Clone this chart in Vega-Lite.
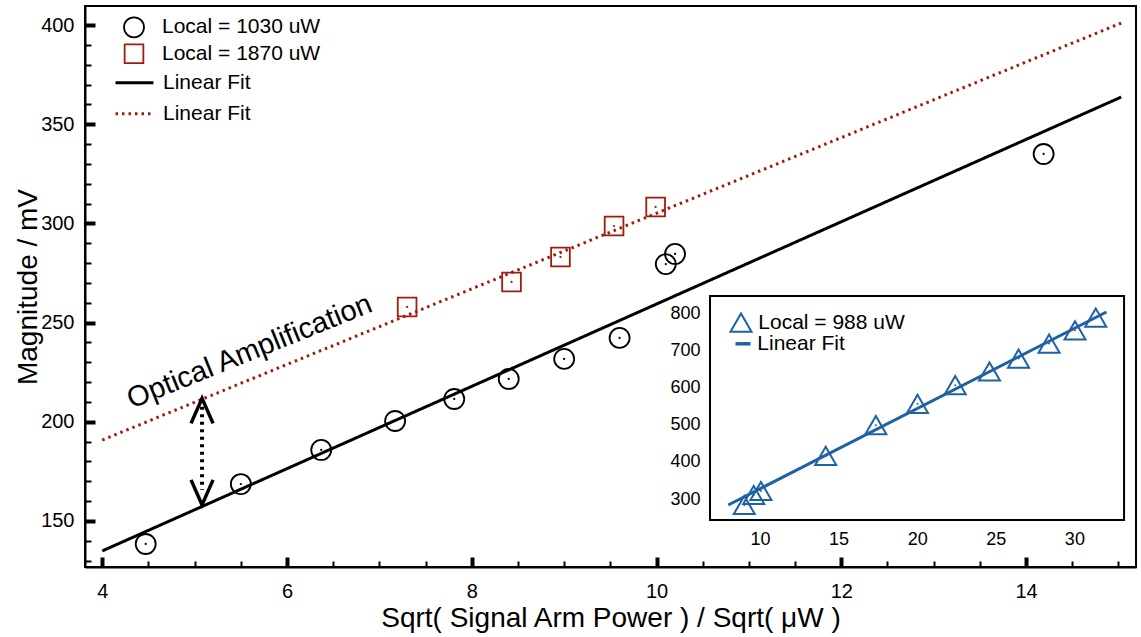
{
  "$schema": "https://vega.github.io/schema/vega-lite/v6.json",
  "width": 1051,
  "height": 561,
  "autosize": {"type": "none"},
  "padding": {"left": 85, "top": 6, "right": 5, "bottom": 70},
  "background": "white",
  "config": {
    "view": {"stroke": "black", "strokeWidth": 2},
    "font": "Liberation Sans",
    "axis": {"grid": false, "labelFont": "Liberation Sans", "titleFont": "Liberation Sans", "labelColor": "black", "titleColor": "black", "tickColor": "black", "domainColor": "black", "titleFontWeight": "normal"},
    "legend": {"labelFont": "Liberation Sans", "labelColor": "black", "title": null, "orient": "none", "padding": 0}
  },
  "datasets": {
    "main_pts": [
      {"x": 4.47, "y": 138.4, "series": "Local = 1030 uW"},
      {"x": 5.50, "y": 168.6, "series": "Local = 1030 uW"},
      {"x": 6.37, "y": 185.8, "series": "Local = 1030 uW"},
      {"x": 7.17, "y": 200.4, "series": "Local = 1030 uW"},
      {"x": 7.81, "y": 211.5, "series": "Local = 1030 uW"},
      {"x": 8.40, "y": 221.6, "series": "Local = 1030 uW"},
      {"x": 9.00, "y": 231.7, "series": "Local = 1030 uW"},
      {"x": 9.60, "y": 242.3, "series": "Local = 1030 uW"},
      {"x": 10.10, "y": 279.5, "series": "Local = 1030 uW"},
      {"x": 10.20, "y": 284.6, "series": "Local = 1030 uW"},
      {"x": 14.19, "y": 335.0, "series": "Local = 1030 uW"},
      {"x": 7.30, "y": 257.9, "series": "Local = 1870 uW"},
      {"x": 8.43, "y": 270.5, "series": "Local = 1870 uW"},
      {"x": 8.96, "y": 283.1, "series": "Local = 1870 uW"},
      {"x": 9.54, "y": 298.7, "series": "Local = 1870 uW"},
      {"x": 9.99, "y": 308.3, "series": "Local = 1870 uW"}
    ],
    "main_fit": [
      {"x": 4.0, "y": 134.9, "series": "Linear Fit (1030)"},
      {"x": 15.03, "y": 363.7, "series": "Linear Fit (1030)"},
      {"x": 4.0, "y": 190.8, "series": "Linear Fit (1870)"},
      {"x": 15.03, "y": 401.0, "series": "Linear Fit (1870)"}
    ],
    "arrow": [
      {"x": 5.08, "y": 207.6, "y2": 165.6}
    ],
    "heads": [
      {"x": 5.08, "y": 205.5, "dir": "up"},
      {"x": 5.08, "y": 164.4, "dir": "down"}
    ],
    "note": [
      {"x": 5.63, "y": 231.2, "label": "Optical Amplification"}
    ],
    "inset_pts": [
      {"x": 9.0, "y": 283.9, "series": "Local = 988 uW"},
      {"x": 9.6, "y": 310.8, "series": "Local = 988 uW"},
      {"x": 10.06, "y": 321.5, "series": "Local = 988 uW"},
      {"x": 14.18, "y": 416.4, "series": "Local = 988 uW"},
      {"x": 17.37, "y": 498.9, "series": "Local = 988 uW"},
      {"x": 20.02, "y": 556.2, "series": "Local = 988 uW"},
      {"x": 22.42, "y": 606.5, "series": "Local = 988 uW"},
      {"x": 24.6, "y": 643.3, "series": "Local = 988 uW"},
      {"x": 26.45, "y": 678.2, "series": "Local = 988 uW"},
      {"x": 28.39, "y": 718.5, "series": "Local = 988 uW"},
      {"x": 30.04, "y": 754.3, "series": "Local = 988 uW"},
      {"x": 31.36, "y": 788.4, "series": "Local = 988 uW"}
    ],
    "inset_fit": [
      {"x": 7.98, "y": 283.9, "series": "Linear Fit"},
      {"x": 32.04, "y": 803.5, "series": "Linear Fit"}
    ],
    "inset_box": [
      {"x": 6.82, "x2": 33.16, "y": 243.5, "y2": 846.6}
    ]
  },
  "layer": [
    {
      "data": {"name": "main_fit"},
      "mark": {"type": "line", "strokeWidth": 3},
      "encoding": {
        "x": {"field": "x", "type": "quantitative",
          "scale": {"domain": [3.813, 15.19], "nice": false, "zero": false},
          "axis": {"orient": "bottom", "values": [4, 6, 8, 10, 12, 14], "tickSize": -10, "tickWidth": 4, "labelFontSize": 20, "labelPadding": 24, "domainWidth": 2, "title": "Sqrt( Signal Arm Power ) / Sqrt( μW )", "titleFontSize": 28, "titlePadding": 3}},
        "y": {"field": "y", "type": "quantitative",
          "scale": {"domain": [126.8, 409.6], "nice": false, "zero": false},
          "axis": {"orient": "left", "values": [150, 200, 250, 300, 350, 400], "tickSize": -10, "tickWidth": 4, "labelFontSize": 20, "labelPadding": 21, "domainWidth": 2, "title": "Magnitude / mV", "titleFontSize": 28, "titlePadding": -2}},
        "color": {"field": "series", "type": "nominal",
          "scale": {"domain": ["Linear Fit (1030)", "Linear Fit (1870)"], "range": ["black", "#a01c0d"]},
          "legend": {"legendX": 29, "legendY": 56.3, "symbolSize": 1444, "symbolStrokeWidth": 3, "labelFontSize": 21, "labelOffset": 8, "rowPadding": -10, "labelExpr": "'Linear Fit'"}},
        "strokeDash": {"field": "series", "type": "nominal",
          "scale": {"domain": ["Linear Fit (1030)", "Linear Fit (1870)"], "range": [[1, 0], [2.5, 4]]},
          "legend": {"legendX": 29, "legendY": 56.3, "symbolSize": 1444, "symbolStrokeWidth": 3, "labelFontSize": 21, "labelOffset": 8, "rowPadding": -10, "labelExpr": "'Linear Fit'"}}
      }
    },
    {
      "data": {"name": "main_pts"},
      "mark": {"type": "point", "filled": false, "strokeWidth": 1.8, "opacity": 1},
      "encoding": {
        "x": {"field": "x", "type": "quantitative",
          "scale": {"domain": [3.813, 15.19], "nice": false, "zero": false},
          "axis": {"orient": "bottom", "values": [4.5, 5, 5.5, 6.5, 7, 7.5, 8.5, 9, 9.5, 10.5, 11, 11.5, 12.5, 13, 13.5, 14.5, 15], "tickSize": -6, "tickWidth": 2, "labels": false, "domain": false, "title": null}},
        "y": {"field": "y", "type": "quantitative",
          "scale": {"domain": [126.8, 409.6], "nice": false, "zero": false},
          "axis": {"orient": "left", "values": [130, 140, 160, 170, 180, 190, 210, 220, 230, 240, 260, 270, 280, 290, 310, 320, 330, 340, 360, 370, 380, 390], "tickSize": -6, "tickWidth": 2, "labels": false, "domain": false, "title": null}},
        "color": {"field": "series", "type": "nominal",
          "scale": {"domain": ["Local = 1030 uW", "Local = 1870 uW"], "range": ["black", "#a01c0d"]},
          "legend": {"legendX": 38, "legendY": 10.3, "symbolSize": 400, "symbolStrokeWidth": 1.8, "labelFontSize": 21, "labelOffset": 17, "rowPadding": -1}},
        "shape": {"field": "series", "type": "nominal",
          "scale": {"domain": ["Local = 1030 uW", "Local = 1870 uW"], "range": ["circle", "square"]},
          "legend": {"legendX": 38, "legendY": 10.3, "symbolSize": 400, "symbolStrokeWidth": 1.8, "labelFontSize": 21, "labelOffset": 17, "rowPadding": -1}},
        "size": {"field": "series", "type": "nominal",
          "scale": {"domain": ["Local = 1030 uW", "Local = 1870 uW"], "range": [400, 350]}, "legend": null}
      }
    },
    {
      "data": {"name": "main_pts"},
      "mark": {"type": "point", "filled": true, "shape": "circle", "size": 5, "opacity": 1},
      "encoding": {
        "x": {"field": "x", "type": "quantitative", "scale": {"domain": [3.813, 15.19], "nice": false, "zero": false}, "axis": null},
        "y": {"field": "y", "type": "quantitative", "scale": {"domain": [126.8, 409.6], "nice": false, "zero": false}, "axis": null},
        "color": {"field": "series", "type": "nominal",
          "scale": {"domain": ["Local = 1030 uW", "Local = 1870 uW"], "range": ["black", "#a01c0d"]}, "legend": null}
      }
    },
    {
      "data": {"name": "arrow"},
      "mark": {"type": "rule", "color": "black", "strokeWidth": 4, "strokeDash": [3, 4.5]},
      "encoding": {
        "x": {"field": "x", "type": "quantitative", "scale": {"domain": [3.813, 15.19], "nice": false, "zero": false}, "axis": null},
        "y": {"field": "y", "type": "quantitative", "scale": {"domain": [126.8, 409.6], "nice": false, "zero": false}, "axis": null},
        "y2": {"field": "y2"}
      }
    },
    {
      "data": {"name": "heads"},
      "transform": [{"filter": "datum.dir == 'up'"}],
      "mark": {"type": "point", "shape": "M-0.88,1L0,-1L0.88,1", "size": 625, "filled": false, "color": "black", "strokeWidth": 3.5, "opacity": 1},
      "encoding": {
        "x": {"field": "x", "type": "quantitative", "scale": {"domain": [3.813, 15.19], "nice": false, "zero": false}, "axis": null},
        "y": {"field": "y", "type": "quantitative", "scale": {"domain": [126.8, 409.6], "nice": false, "zero": false}, "axis": null}
      }
    },
    {
      "data": {"name": "heads"},
      "transform": [{"filter": "datum.dir == 'down'"}],
      "mark": {"type": "point", "shape": "M-0.88,-1L0,1L0.88,-1", "size": 625, "filled": false, "color": "black", "strokeWidth": 3.5, "opacity": 1},
      "encoding": {
        "x": {"field": "x", "type": "quantitative", "scale": {"domain": [3.813, 15.19], "nice": false, "zero": false}, "axis": null},
        "y": {"field": "y", "type": "quantitative", "scale": {"domain": [126.8, 409.6], "nice": false, "zero": false}, "axis": null}
      }
    },
    {
      "data": {"name": "note"},
      "mark": {"type": "text", "angle": -22, "align": "center", "baseline": "alphabetic", "fontSize": 29, "font": "Liberation Sans", "color": "black"},
      "encoding": {
        "x": {"field": "x", "type": "quantitative", "scale": {"domain": [3.813, 15.19], "nice": false, "zero": false}, "axis": null},
        "y": {"field": "y", "type": "quantitative", "scale": {"domain": [126.8, 409.6], "nice": false, "zero": false}, "axis": null},
        "text": {"field": "label"}
      }
    },
    {
      "data": {"name": "inset_box"},
      "mark": {"type": "rect", "fill": "white", "stroke": "black", "strokeWidth": 2},
      "encoding": {
        "x": {"field": "x", "type": "quantitative",
          "scale": {"domain": [-32.94, 33.92], "nice": false, "zero": false},
          "axis": {"orient": "bottom", "offset": -47, "values": [10, 15, 20, 25, 30], "tickSize": -11, "tickWidth": 3, "labelFontSize": 18, "labelPadding": 21, "domain": false, "title": null}},
        "x2": {"field": "x2"},
        "y": {"field": "y", "type": "quantitative",
          "scale": {"domain": [116.96, 1627.4], "nice": false, "zero": false},
          "axis": {"orient": "left", "offset": -625, "values": [300, 400, 500, 600, 700, 800], "tickSize": -11, "tickWidth": 3, "labelFontSize": 18, "labelPadding": 21, "domain": false, "title": null}},
        "y2": {"field": "y2"}
      }
    },
    {
      "data": {"name": "inset_fit"},
      "mark": {"type": "line", "strokeWidth": 3},
      "encoding": {
        "x": {"field": "x", "type": "quantitative",
          "scale": {"domain": [-32.94, 33.92], "nice": false, "zero": false},
          "axis": {"orient": "bottom", "offset": -47, "values": [7, 8, 9, 11, 12, 13, 14, 16, 17, 18, 19, 21, 22, 23, 24, 26, 27, 28, 29, 31, 32, 33], "tickSize": -6, "tickWidth": 2, "labels": false, "domain": false, "title": null}},
        "y": {"field": "y", "type": "quantitative",
          "scale": {"domain": [116.96, 1627.4], "nice": false, "zero": false},
          "axis": {"orient": "left", "offset": -625, "values": [260, 280, 320, 340, 360, 380, 420, 440, 460, 480, 520, 540, 560, 580, 620, 640, 660, 680, 720, 740, 760, 780, 820, 840], "tickSize": -6, "tickWidth": 2, "labels": false, "domain": false, "title": null}},
        "color": {"field": "series", "type": "nominal",
          "scale": {"domain": ["Linear Fit"], "range": ["#1f62a3"]},
          "legend": {"legendX": 647.5, "legendY": 327.3, "symbolSize": 225, "symbolStrokeWidth": 3.5, "labelFontSize": 21, "labelOffset": 3.8}}
      }
    },
    {
      "data": {"name": "inset_pts"},
      "mark": {"type": "point", "filled": false, "size": 441, "strokeWidth": 2, "opacity": 1},
      "encoding": {
        "x": {"field": "x", "type": "quantitative", "scale": {"domain": [-32.94, 33.92], "nice": false, "zero": false}, "axis": null},
        "y": {"field": "y", "type": "quantitative", "scale": {"domain": [116.96, 1627.4], "nice": false, "zero": false}, "axis": null},
        "color": {"field": "series", "type": "nominal",
          "scale": {"domain": ["Local = 988 uW"], "range": ["#1f62a3"]},
          "legend": {"legendX": 644.5, "legendY": 305.2, "symbolSize": 441, "symbolStrokeWidth": 2, "labelFontSize": 21, "labelOffset": 5.8}},
        "shape": {"field": "series", "type": "nominal",
          "scale": {"domain": ["Local = 988 uW"], "range": ["triangle-up"]},
          "legend": {"legendX": 644.5, "legendY": 305.2, "symbolSize": 441, "symbolStrokeWidth": 2, "labelFontSize": 21, "labelOffset": 5.8}}
      }
    },
    {
      "data": {"name": "inset_pts"},
      "mark": {"type": "point", "filled": true, "shape": "circle", "size": 4, "color": "#1f62a3", "opacity": 1},
      "encoding": {
        "x": {"field": "x", "type": "quantitative", "scale": {"domain": [-32.94, 33.92], "nice": false, "zero": false}, "axis": null},
        "y": {"field": "y", "type": "quantitative", "scale": {"domain": [116.96, 1627.4], "nice": false, "zero": false}, "axis": null}
      }
    }
  ],
  "resolve": {"scale": {"x": "independent", "y": "independent", "color": "independent", "shape": "independent", "strokeDash": "independent", "size": "independent"}}
}
